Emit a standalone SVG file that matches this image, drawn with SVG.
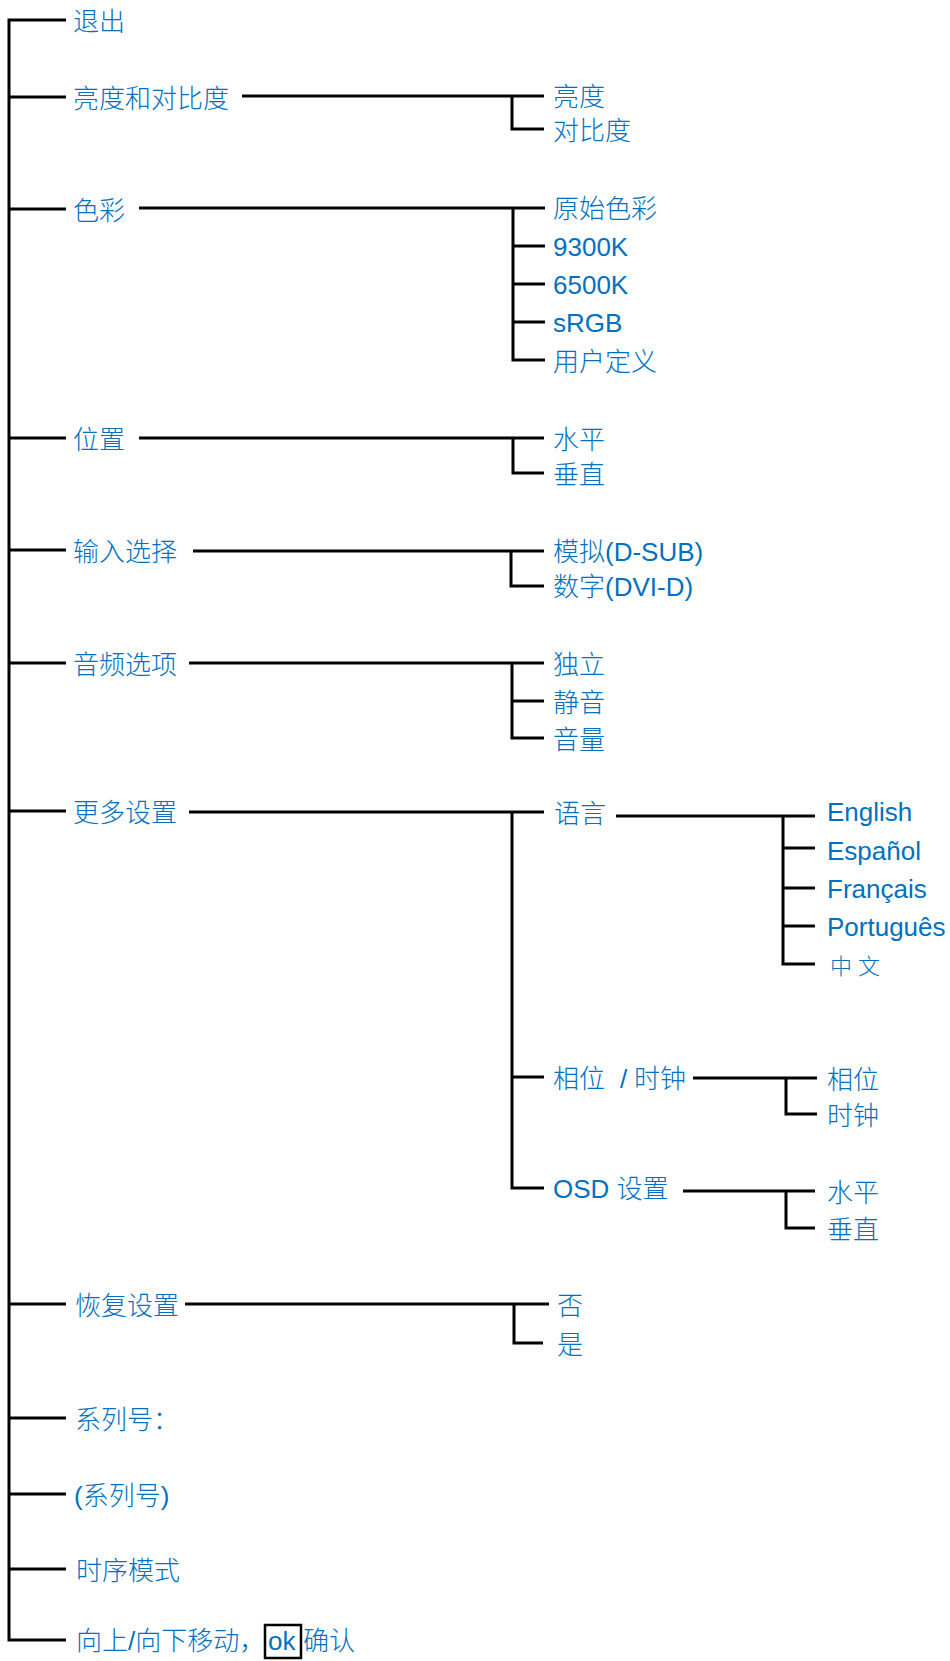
<svg xmlns="http://www.w3.org/2000/svg" width="950" height="1661" viewBox="0 0 950 1661">
<style>
  .t { font-family: "Liberation Sans", "Noto Sans CJK SC", sans-serif; font-size: 26px; fill: #0070C0; font-weight: 300; }
  .c { fill: none; stroke: #000; stroke-width: 3; stroke-linejoin: miter; stroke-linecap: butt; }
</style>
<rect width="950" height="1661" fill="#fff"/>
<g id="connectors" class="c">
  <path d="M66,20 H9 V1640 H66"/>
  <path d="M9,97 H66 M9,209 H66 M9,438 H66 M9,550 H66 M9,663 H66 M9,811 H66 M9,1304 H66 M9,1418 H66 M9,1494 H66 M9,1569 H66"/>
  <path d="M242,96 H544 M512,96 V129 H544"/>
  <path d="M139,208 H545 M513,208 V360 H545 M513,246 H545 M513,284 H545 M513,322 H545"/>
  <path d="M139,438 H544 M513,438 V473 H544"/>
  <path d="M193,551 H544 M511,551 V586 H544"/>
  <path d="M189,663 H544 M512,663 V738 H544 M512,701 H544"/>
  <path d="M189,812 H544 M512,812 V1188 H544 M512,1077 H544"/>
  <path d="M616,816 H815 M783,816 V964 H815 M783,848 H815 M783,888 H815 M783,926 H815"/>
  <path d="M693,1078 H817 M786,1078 V1114 H817"/>
  <path d="M683,1191 H815 M786,1191 V1228 H815"/>
  <path d="M185,1304 H549 M514,1304 V1343 H543"/>
</g>
<g id="n-exit"><text class="t" x="73" y="31">退出</text></g>
<g id="n-brightness-contrast"><text class="t" x="73" y="108">亮度和对比度</text></g>
<g id="n-brightness"><text class="t" x="553" y="106">亮度</text></g>
<g id="n-contrast"><text class="t" x="553" y="140">对比度</text></g>
<g id="n-color"><text class="t" x="73" y="220">色彩</text></g>
<g id="n-native"><text class="t" x="553" y="218">原始色彩</text></g>
<g id="n-9300k"><text class="t" x="553" y="256">9300K</text></g>
<g id="n-6500k"><text class="t" x="553" y="294">6500K</text></g>
<g id="n-srgb"><text class="t" x="553" y="332">sRGB</text></g>
<g id="n-user"><text class="t" x="553" y="371">用户定义</text></g>
<g id="n-position"><text class="t" x="73" y="449">位置</text></g>
<g id="n-pos-h"><text class="t" x="553" y="449">水平</text></g>
<g id="n-pos-v"><text class="t" x="553" y="484">垂直</text></g>
<g id="n-input"><text class="t" x="73" y="561">输入选择</text></g>
<g id="n-dsub"><text class="t" x="553" y="561">模拟(D-SUB)</text></g>
<g id="n-dvi"><text class="t" x="553" y="596">数字(DVI-D)</text></g>
<g id="n-audio"><text class="t" x="73" y="674">音频选项</text></g>
<g id="n-standalone"><text class="t" x="553" y="674">独立</text></g>
<g id="n-mute"><text class="t" x="553" y="712">静音</text></g>
<g id="n-volume"><text class="t" x="553" y="749">音量</text></g>
<g id="n-more"><text class="t" x="73" y="822">更多设置</text></g>
<g id="n-language"><text class="t" x="554" y="823">语言</text></g>
<g id="n-english"><text class="t" x="827" y="821">English</text></g>
<g id="n-espanol"><text class="t" x="827" y="860">Español</text></g>
<g id="n-francais"><text class="t" x="827" y="898">Français</text></g>
<g id="n-portugues"><text class="t" x="827" y="936">Português</text></g>
<g id="n-chinese"><text class="t" x="830" y="974" style="font-size:22px;letter-spacing:6px">中文</text></g>
<g id="n-phase-clock"><text class="t" x="553" y="1088">相位 <tspan x="620">/ </tspan><tspan x="634">时钟</tspan></text></g>
<g id="n-phase"><text class="t" x="827" y="1089">相位</text></g>
<g id="n-clock"><text class="t" x="827" y="1125">时钟</text></g>
<g id="n-osd"><text class="t" x="553" y="1198">OSD 设置</text></g>
<g id="n-osd-h"><text class="t" x="827" y="1202">水平</text></g>
<g id="n-osd-v"><text class="t" x="827" y="1239">垂直</text></g>
<g id="n-reset"><text class="t" x="75" y="1315">恢复设置</text></g>
<g id="n-no"><text class="t" x="557" y="1315">否</text></g>
<g id="n-yes"><text class="t" x="557" y="1354">是</text></g>
<g id="n-serial-label"><text class="t" x="75" y="1429">系列号：</text></g>
<g id="n-serial"><text class="t" x="74" y="1505">(系列号)</text></g>
<g id="n-timing"><text class="t" x="76" y="1580">时序模式</text></g>
<g id="n-nav">
  <text class="t" x="76" y="1650">向上/向下移动，<tspan x="268">ok</tspan><tspan x="303">确认</tspan></text>
  <rect x="265" y="1625" width="36" height="33" fill="none" stroke="#000" stroke-width="2.5"/>
</g>
</svg>
